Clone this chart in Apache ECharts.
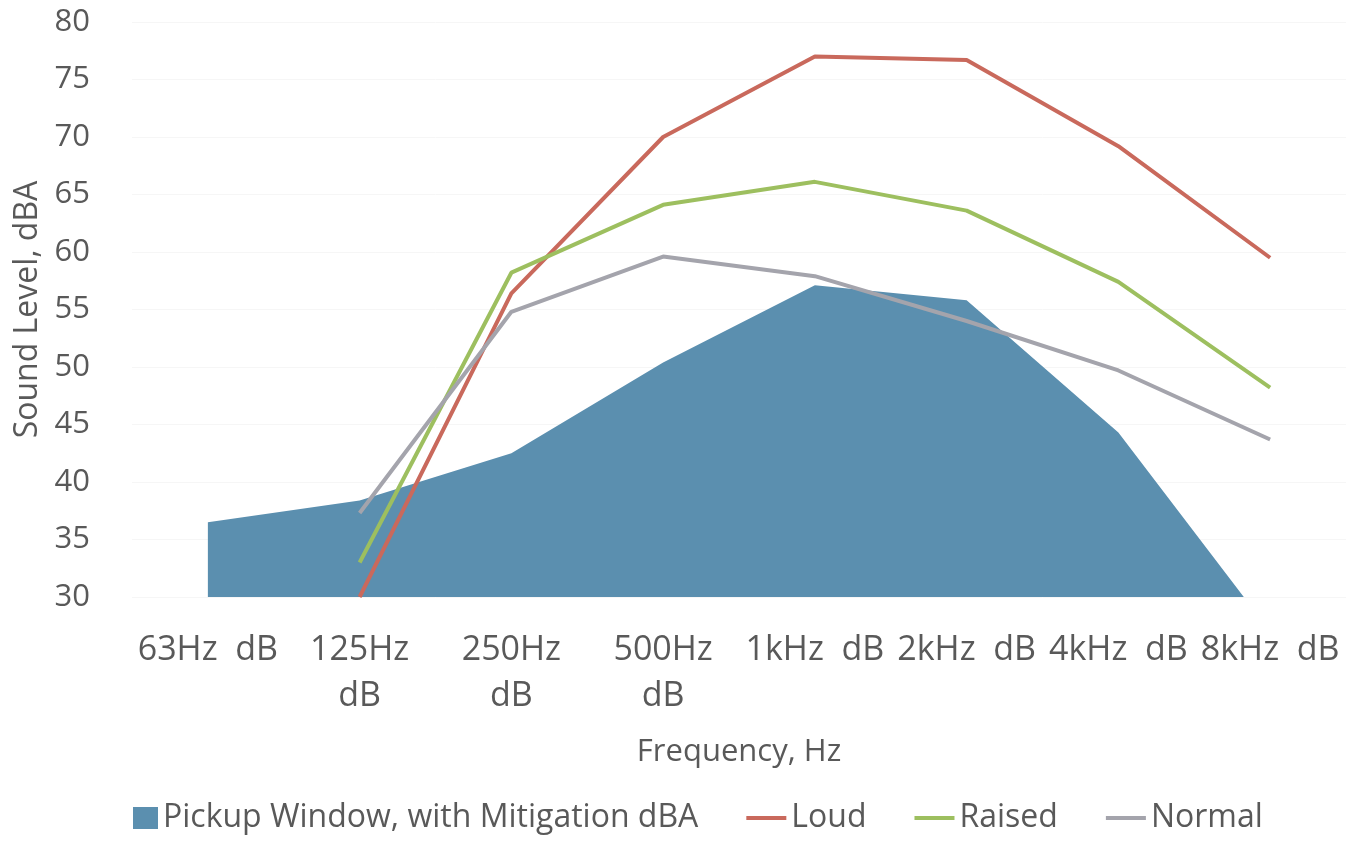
<!DOCTYPE html>
<html>
<head>
<meta charset="utf-8">
<script src="https://cdn.jsdelivr.net/npm/echarts@6/dist/echarts.min.js"></script>
<style>html,body{margin:0;padding:0;background:#fff}#c{width:1351px;height:841px}</style>
</head>
<body>
<div id="c"></div>
<script>
const categories = ['63Hz  dB', '125Hz\ndB', '250Hz\ndB', '500Hz\ndB', '1kHz  dB', '2kHz  dB', '4kHz  dB', '8kHz  dB'];
const pickup = [36.5, 38.4, 42.5, 50.4, 57.1, 55.8, 44.3, 27];
const loud = [null, 30, 56.4, 70, 77, 76.7, 69.2, 59.5];
const raised = [null, 33, 58.2, 64.1, 66.1, 63.6, 57.4, 48.2];
const normal = [null, 37.3, 54.8, 59.6, 57.9, 54, 49.7, 43.7];
const yTicks = [30, 35, 40, 45, 50, 55, 60, 65, 70, 75, 80];

const FONT = 'Open Sans';
const TXT = '#595959';
const lineIcon = 'path://M0,0h0.01v0.01h-0.01zM0,9h40v4h-40zM0,21.99h0.01v0.01h-0.01z';
const squareIcon = 'path://M0,11h0.01v0.01h-0.01zM15,0h25v22h-25z';
const chart = echarts.init(document.getElementById('c'));
chart.setOption({
  animation: false,
  grid: { left: 132, right: 5, top: 22, bottom: 244, containLabel: false, outerBoundsMode: 'none' },
  legend: {
    bottom: 2,
    left: 113,
    itemGap: 48,
    itemWidth: 40,
    itemHeight: 22,
    textStyle: { fontFamily: FONT, fontSize: 32, color: TXT },
    data: [
      { name: 'Pickup Window, with Mitigation dBA', icon: squareIcon },
      { name: 'Loud', icon: lineIcon },
      { name: 'Raised', icon: lineIcon },
      { name: 'Normal', icon: lineIcon }
    ]
  },
  xAxis: {
    type: 'category',
    data: categories,
    boundaryGap: true,
    name: 'Frequency, Hz',
    nameLocation: 'middle',
    nameGap: 140,
    nameTextStyle: { fontFamily: FONT, fontSize: 31, color: TXT },
    axisLine: { show: false },
    axisTick: { show: false },
    axisLabel: { fontFamily: FONT, fontSize: 34, color: TXT, margin: 30, lineHeight: 46, interval: 0 }
  },
  yAxis: {
    type: 'value',
    min: yTicks[0],
    max: yTicks[yTicks.length - 1],
    interval: 5,
    name: 'Sound Level, dBA',
    nameLocation: 'middle',
    nameGap: 86,
    nameTextStyle: { fontFamily: FONT, fontSize: 32, color: TXT },
    axisLine: { show: false },
    axisTick: { show: false },
    axisLabel: { fontFamily: FONT, fontSize: 31, color: TXT, margin: 42 },
    splitLine: { lineStyle: { color: '#f6f6f6', width: 1 } }
  },
  series: [
    {
      name: 'Pickup Window, with Mitigation dBA',
      type: 'line',
      data: pickup,
      symbol: 'none',
      lineStyle: { width: 0 },
      itemStyle: { color: '#5b8faf' },
      areaStyle: { color: '#5b8faf', opacity: 1, origin: 'start' },
      z: 1
    },
    { name: 'Loud', type: 'line', data: loud, symbol: 'none', itemStyle: { color: '#c9695c' }, lineStyle: { width: 4, color: '#c9695c' }, z: 3 },
    { name: 'Raised', type: 'line', data: raised, symbol: 'none', itemStyle: { color: '#9dbf5f' }, lineStyle: { width: 4, color: '#9dbf5f' }, z: 3 },
    { name: 'Normal', type: 'line', data: normal, symbol: 'none', itemStyle: { color: '#a4a4ac' }, lineStyle: { width: 4, color: '#a4a4ac' }, z: 3 }
  ]
});
</script>
</body>
</html>
